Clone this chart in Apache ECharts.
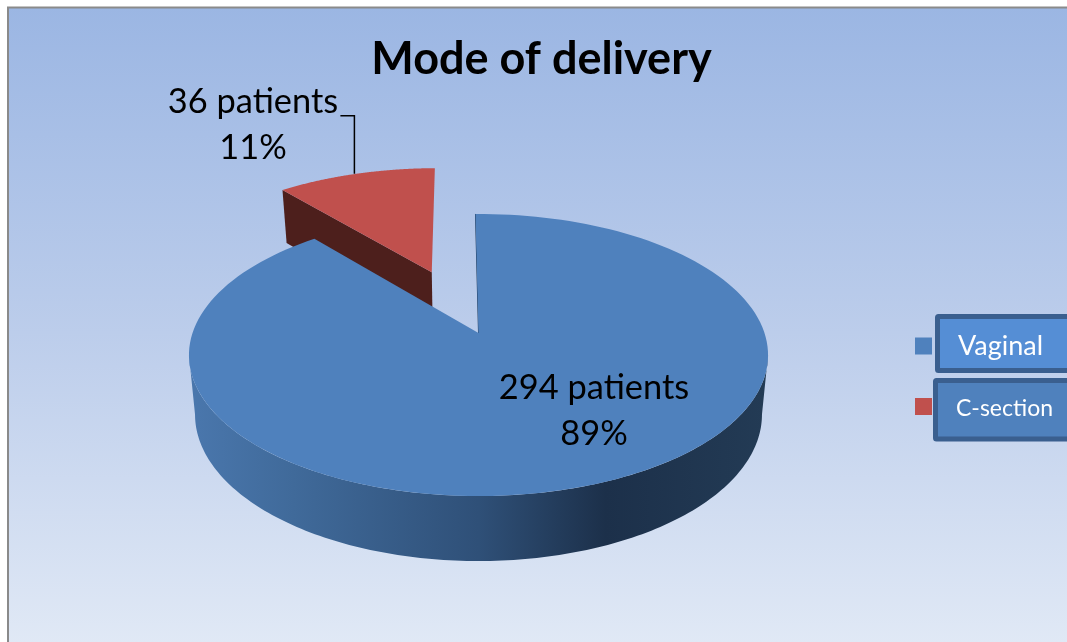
<!DOCTYPE html>
<html><head><meta charset="utf-8">
<style>html,body{margin:0;padding:0;background:#fff}#c{width:1067px;height:642px}</style>
<script src="https://cdn.jsdelivr.net/npm/echarts@6/dist/echarts.min.js"></script>
</head><body><div id="c"></div>
<script>
const categories = ['Vaginal', 'C-section'];
const patients = [294, 36];
const titleText = 'Mode of delivery';
const sliceColors = ['#4f81bd', '#c0504d'];

const total = patients.reduce((a, b) => a + b, 0);
const FONT = 'Lato';
const START = -0.7 * Math.PI / 180;
const TOP = { cx: 478.5, cy: 333, R: 286, K: 137.6, c: 0.156 };
const BOT = { cx: 478.5, cy: 391.6, R: 280, K: 143, c: 0.156 };
const EXPLODE = 0.505;

function proj(m, x, y) {
  const w = 1 + m.c * y;
  return [m.cx + m.R * x / w, m.cy - m.K * y / w];
}
function pt(m, o, a) { return proj(m, o[0] + Math.sin(a), o[1] + Math.cos(a)); }
function arc(m, o, a0, a1) {
  const n = 160, out = [];
  for (let i = 0; i <= n; i++) out.push(pt(m, o, a0 + (a1 - a0) * i / n));
  return out;
}
function sliceRange(idx) {
  let s = 0;
  for (let i = 0; i < idx; i++) s += patients[i];
  return [START + s / total * 2 * Math.PI, START + (s + patients[idx]) / total * 2 * Math.PI];
}
function label(idx) {
  return patients[idx] + ' patients\n' + Math.round(patients[idx] / total * 100) + '%';
}
function textEl(text, x, y) {
  return { type: 'text', z2: 20, style: { text, x, y, align: 'center', verticalAlign: 'middle',
    fontFamily: FONT, fontSize: 34.4, lineHeight: 46, fill: '#000' } };
}

function renderVaginal(params) {
  const idx = 0;
  const [a0, a1] = sliceRange(idx);
  const o = [0, 0];
  const wallA = Math.acos(-TOP.c);
  const wall = arc(TOP, o, wallA, 2 * Math.PI - wallA).concat(arc(BOT, o, 2 * Math.PI - wallA, wallA));
  const top = [proj(TOP, 0, 0)].concat(arc(TOP, o, a0, a1));
  return { type: 'group', children: [
    { type: 'polygon', shape: { points: wall }, style: { fill: { type: 'linear', x: 0, y: 0, x2: 1, y2: 0,
      colorStops: [
        { offset: 0, color: '#4a77ad' }, { offset: 0.18, color: '#406a9a' },
        { offset: 0.5, color: '#2f5078' }, { offset: 0.72, color: '#1c304a' },
        { offset: 1, color: '#233b55' }] } } },
    { type: 'polyline', shape: { points: [proj(TOP, 0, 0), pt(TOP, o, a0)] }, style: { stroke: '#1d3a5c', lineWidth: 1, fill: 'none' } },
    { type: 'polygon', shape: { points: top }, style: { fill: sliceColors[idx] }, z2: 5 },
    textEl(label(idx), 594, 411)
  ] };
}
function renderCSection(params) {
  const idx = 1;
  const [a0, a1] = sliceRange(idx);
  const mid = (a0 + a1) / 2;
  const o = [EXPLODE * Math.sin(mid), EXPLODE * Math.cos(mid)];
  const anchor = pt(TOP, o, mid);
  const side = [proj(TOP, o[0], o[1]), pt(TOP, o, a0), pt(BOT, o, a0), proj(BOT, o[0], o[1])];
  const top = [proj(TOP, o[0], o[1])].concat(arc(TOP, o, a0, a1));
  const lx = anchor[0] - 1.5, ly = anchor[1];
  return { type: 'group', children: [
    { type: 'polygon', shape: { points: side }, style: { fill: '#4d1f1c' } },
    { type: 'polygon', shape: { points: top }, style: { fill: sliceColors[idx] }, z2: 5 },
    { type: 'polyline', shape: { points: [[lx, ly], [lx, ly - 58], [lx - 14, ly - 58]] }, style: { stroke: '#000', lineWidth: 1.5, fill: 'none' }, z2: 6 },
    textEl(label(idx), 253, 125)
  ] };
}

const legendRich = { s: { color: '#fff', fontFamily: FONT, fontSize: 23, lineHeight: 17, padding: [5, 0, 0, 19] } };
const chart = echarts.init(document.getElementById('c'), null, { renderer: 'canvas' });
chart.setOption({
  animation: false,
  backgroundColor: '#ffffff',
  graphic: { elements: [
    { type: 'rect', shape: { x: 8, y: 7.5, width: 1070, height: 650 },
      style: { stroke: '#8a8a8a', lineWidth: 2, fill: { type: 'linear', x: 0, y: 0, x2: 0, y2: 1,
        colorStops: [{ offset: 0, color: '#9bb6e3' }, { offset: 0.5, color: '#bccdeb' }, { offset: 1, color: '#e2eaf6' }] } } },
    { type: 'rect', shape: { x: 937.5, y: 316.5, width: 150, height: 54, r: 1 },
      style: { fill: '#558ed5', stroke: '#3a5f8f', lineWidth: 5 } },
    { type: 'rect', shape: { x: 935.5, y: 380.5, width: 150, height: 58.5, r: 1 },
      style: { fill: '#4f81bd', stroke: '#3a5f8f', lineWidth: 5 } }
  ] },
  title: { text: titleText, left: 536.5, top: 32, textAlign: 'center',
    textStyle: { fontFamily: FONT, fontWeight: 'bold', fontSize: 45, color: '#000' } },
  legend: {
    left: 910, top: 327.5, orient: 'vertical', itemWidth: 17, itemHeight: 17, itemGap: 33, icon: 'rect',
    selectedMode: false,
    formatter: n => n === categories[1] ? '{s|' + n + '}' : n,
    textStyle: { rich: legendRich },
    data: [
      { name: categories[0], textStyle: { color: '#fff', fontFamily: FONT, fontSize: 27, lineHeight: 17, padding: [0, 0, 0, 21] } },
      { name: categories[1], textStyle: { rich: legendRich } }
    ]
  },
  series: [
    { type: 'custom', name: categories[1], coordinateSystem: 'none', z: 2, silent: true,
      itemStyle: { color: sliceColors[1] }, data: [patients[1]], renderItem: renderCSection },
    { type: 'custom', name: categories[0], coordinateSystem: 'none', z: 3, silent: true,
      itemStyle: { color: sliceColors[0] }, data: [patients[0]], renderItem: renderVaginal }
  ]
});
</script></body></html>
